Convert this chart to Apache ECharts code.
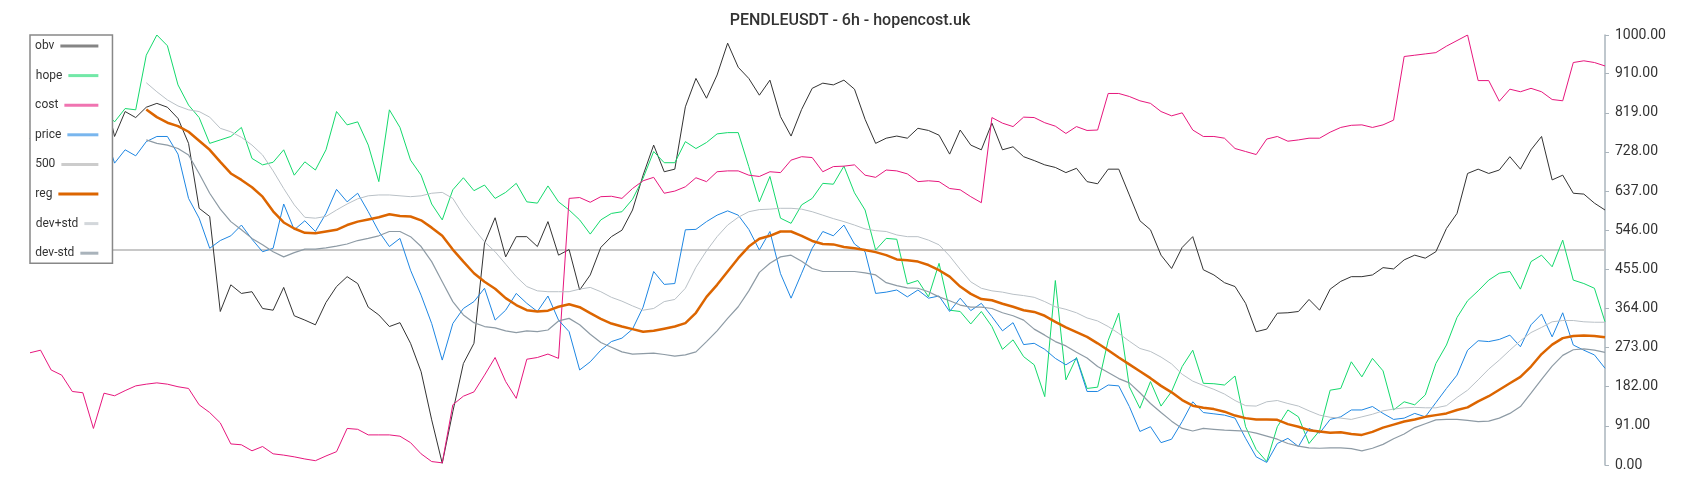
<!DOCTYPE html>
<html>
<head>
<meta charset="utf-8">
<title>PENDLEUSDT - 6h</title>
<script src="https://cdn.jsdelivr.net/npm/echarts@6/dist/echarts.min.js"></script>
<style>
  html, body { margin: 0; padding: 0; background: #fff; }
  #chart { width: 1700px; height: 500px; }
</style>
</head>
<body>
<div id="chart"></div>
<script>
const obv = [800, 770, 790, 815, 805, 830, 845, 870, 764, 822, 808, 832, 841, 832, 806, 748, 597, 578, 357, 419,
  399, 403, 364, 360, 413, 347, 337, 326, 378, 415, 438, 422, 367, 349, 322, 331, 283, 217, 105, 4,
  124, 236, 283, 516, 575, 484, 531, 531, 508, 566, 488, 501, 407, 442, 506, 531, 546, 593, 674, 744,
  682, 688, 833, 899, 853, 907, 981, 925, 899, 860, 895, 810, 765, 827, 876, 888, 884, 895, 874, 804,
  748, 760, 765, 760, 783, 778, 767, 723, 779, 744, 733, 795, 733, 740, 717, 708, 698, 692, 680, 690,
  659, 654, 688, 688, 628, 568, 547, 488, 457, 506, 531, 454, 442, 424, 415, 376, 310, 316, 353, 354,
  357, 385, 360, 409, 427, 438, 438, 442, 459, 456, 477, 488, 481, 496, 550, 585, 678, 688, 678, 686,
  717, 688, 733, 764, 663, 674, 632, 630, 609, 593];

const hope = [790, 800, 815, 805, 830, 820, 805, 825, 798, 829, 826, 953, 1000, 975, 884, 837, 808, 748, 756, 764,
  785, 713, 698, 704, 733, 674, 705, 686, 733, 822, 791, 798, 744, 659, 826, 785, 709, 674, 607, 570,
  640, 668, 638, 651, 620, 634, 655, 612, 609, 649, 612, 593, 570, 537, 570, 585, 589, 618, 667, 729,
  703, 703, 752, 736, 750, 770, 773, 773, 694, 612, 671, 574, 562, 605, 620, 655, 653, 695, 633, 593,
  500, 527, 525, 421, 429, 391, 469, 360, 357, 328, 357, 322, 269, 291, 252, 233, 159, 429, 198, 250,
  178, 181, 290, 353, 182, 132, 194, 137, 171, 229, 267, 190, 189, 186, 207, 89, 36, 8, 89, 128,
  112, 50, 80, 174, 178, 240, 205, 248, 219, 128, 147, 140, 163, 236, 279, 343, 382, 405, 430, 446,
  450, 409, 473, 488, 461, 523, 430, 422, 411, 333];

const cost = [261, 267, 221, 209, 171, 168, 85, 167, 161, 173, 184, 188, 191, 188, 182, 178, 140, 122, 98, 49,
  47, 33, 43, 26, 23, 19, 14, 10, 21, 31, 85, 83, 70, 70, 70, 67, 52, 26, 8, 5,
  140, 160, 170, 209, 250, 194, 155, 246, 250, 258, 248, 620, 622, 611, 624, 625, 620, 643, 661, 669,
  632, 637, 647, 668, 659, 682, 684, 684, 674, 671, 682, 680, 709, 717, 715, 682, 694, 695, 698, 674,
  669, 686, 684, 677, 659, 661, 659, 643, 640, 624, 610, 808, 795, 787, 809, 808, 796, 788, 771, 787,
  778, 779, 864, 864, 857, 847, 841, 822, 812, 819, 779, 764, 764, 760, 736, 729, 722, 758, 764, 753,
  756, 760, 760, 774, 785, 790, 791, 785, 791, 802, 950, 953, 956, 959, 974, 987, 1000, 894, 894, 846,
  874, 868, 876, 868, 850, 847, 936, 940, 936, 928];

const price = [760, 700, 730, 750, 745, 765, 750, 780, 702, 733, 719, 752, 764, 764, 723, 620, 574, 504, 522, 533,
  558, 525, 496, 504, 607, 547, 568, 543, 585, 641, 612, 632, 589, 543, 508, 527, 453, 395, 329, 244,
  329, 364, 380, 411, 337, 360, 399, 376, 357, 393, 337, 310, 221, 240, 267, 287, 295, 316, 367, 450,
  420, 422, 547, 548, 566, 581, 591, 581, 548, 500, 543, 445, 388, 446, 504, 543, 533, 558, 514, 496,
  399, 402, 407, 391, 407, 388, 393, 357, 388, 359, 376, 345, 312, 331, 280, 283, 269, 248, 233, 248,
  171, 171, 186, 184, 136, 78, 89, 52, 60, 101, 147, 122, 119, 116, 109, 62, 19, 6, 50, 62,
  43, 85, 74, 106, 112, 128, 128, 136, 120, 106, 109, 120, 112, 145, 178, 209, 267, 289, 287, 292,
  302, 275, 326, 351, 298, 354, 279, 267, 256, 225];

const devPlus = [null, null, null, null, null, null, null, null, null, null, null, 889, 868, 849, 835, 826, 822, 809, 783, 775,
  762, 744, 721, 684, 643, 605, 576, 574, 578, 593, 607, 619, 626, 628, 628, 626, 624, 626, 632, 634,
  620, 581, 549, 519, 496, 467, 438, 415, 405, 403, 403, 403, 409, 413, 403, 390, 381, 370, 360, 364,
  380, 385, 411, 460, 498, 531, 558, 576, 589, 594, 595, 597, 597, 595, 589, 581, 573, 566, 558, 549,
  545, 543, 535, 531, 531, 523, 512, 486, 455, 426, 411, 405, 402, 397, 394, 390, 380, 368, 362, 354,
  342, 335, 322, 306, 288, 271, 264, 251, 235, 211, 195, 185, 176, 165, 150, 138, 137, 147, 150, 143,
  137, 126, 116, 111, 109, 106, 112, 118, 126, 130, 133, 134, 133, 133, 138, 157, 174, 198, 223, 244,
  267, 289, 308, 320, 333, 336, 336, 333, 332, 332];

const reg = [null, null, null, null, null, null, null, null, null, null, null, 827, 809, 796, 788, 775, 754, 733, 705, 678,
  663, 646, 624, 590, 564, 550, 540, 539, 543, 547, 558, 566, 571, 576, 583, 579, 578, 569, 552, 533,
  501, 473, 446, 426, 410, 388, 372, 360, 357, 359, 368, 374, 367, 353, 340, 329, 322, 316, 310, 312,
  317, 322, 330, 354, 391, 419, 450, 481, 508, 526, 533, 543, 543, 533, 521, 514, 513, 507, 504, 500,
  495, 488, 478, 476, 473, 465, 453, 438, 415, 398, 386, 383, 375, 368, 360, 356, 347, 333, 320, 309,
  298, 283, 267, 250, 234, 218, 202, 184, 169, 151, 138, 133, 130, 124, 115, 109, 106, 106, 105, 95,
  89, 81, 78, 75, 76, 72, 70, 77, 87, 94, 101, 106, 112, 116, 120, 128, 134, 148, 160, 175,
  190, 205, 229, 258, 280, 295, 300, 301, 300, 297];

const devMinus = [null, null, null, null, null, null, null, null, null, null, null, 756, 748, 744, 736, 721, 678, 632, 595, 566,
  547, 527, 512, 496, 484, 494, 502, 502, 505, 509, 514, 522, 527, 533, 543, 543, 531, 508, 473, 426,
  380, 349, 331, 322, 319, 312, 308, 312, 310, 314, 335, 341, 326, 304, 285, 274, 263, 258, 259, 260,
  257, 253, 256, 263, 287, 312, 341, 368, 405, 448, 469, 484, 488, 474, 457, 450, 450, 450, 450, 447,
  442, 424, 417, 412, 411, 403, 391, 382, 372, 367, 367, 364, 354, 347, 337, 316, 302, 287, 277, 262,
  249, 229, 215, 201, 191, 168, 143, 122, 102, 85, 79, 85, 83, 81, 80, 79, 74, 67, 60, 50,
  44, 40, 39, 40, 40, 38, 33, 39, 48, 61, 72, 87, 96, 105, 106, 106, 104, 101, 102, 109,
  120, 136, 167, 199, 230, 255, 268, 270, 267, 262];

const level = 500;
const times = obv.map((_, i) => String(i));

const names = ['obv', 'hope', 'cost', 'price', '500', 'reg', 'dev+std', 'dev-std'];
const colors = ['#333333', '#14d96c', '#e6177d', '#1e86e2', '#c8c8c8', '#dc6500', '#b9c0c6', '#8e9ba5'];
// paler swatches, like the legend in the original
const swatches = ['#858585', '#72e8a7', '#f074b1', '#79b6ee', '#cccccc', '#dc6500', '#d3d7db', '#a9b3bb'];

// text left, swatch stretched to a common right edge
const measure = document.createElement('canvas').getContext('2d');
measure.font = '12px Roboto';
const legendRich = {
  t: { fontSize: 12, color: '#333', lineHeight: 14, verticalAlign: 'middle' },
  g: { width: 6 }
};
names.forEach((name, i) => {
  legendRich['l' + i] = {
    width: Math.round(63 - 6 - measure.measureText(name).width),
    height: 3,
    backgroundColor: swatches[i],
    verticalAlign: 'middle'
  };
});

const lineSeries = (name, data, color, width) => ({
  name,
  type: 'line',
  data,
  symbol: 'none',
  lineStyle: { color, width },
  itemStyle: { color },
  animation: false
});

const chart = echarts.init(document.getElementById('chart'));
chart.setOption({
  textStyle: { fontFamily: 'Roboto' },
  title: {
    text: 'PENDLEUSDT - 6h - hopencost.uk',
    left: 'center',
    top: 8,
    textStyle: { fontSize: 16, fontWeight: 500, color: '#333' }
  },
  legend: {
    orient: 'vertical',
    left: 30,
    top: 35,
    align: 'right',
    backgroundColor: '#fff',
    borderColor: '#888',
    borderWidth: 1.5,
    padding: [5, 3, 4, 5],
    itemGap: 17.6,
    itemWidth: 1,
    itemHeight: 14,
    lineStyle: { opacity: 0 },
    itemStyle: { opacity: 0 },
    formatter: name => `{t|${name}}{g|}{l${names.indexOf(name)}|}`,
    textStyle: { color: '#333', fontSize: 12, rich: legendRich }
  },
  grid: { left: 30, right: 95, top: 35, bottom: 35 },
  xAxis: {
    type: 'category',
    data: times,
    boundaryGap: false,
    show: false
  },
  yAxis: {
    type: 'value',
    position: 'right',
    min: 0,
    max: 1000,
    interval: 91,
    splitLine: { show: false },
    axisLine: { show: true, lineStyle: { color: '#aab4bc', width: 1.5 } },
    axisTick: { show: true, length: 4 },
    axisLabel: { color: '#333', fontSize: 14, margin: 10, formatter: v => v.toFixed(2) }
  },
  series: [
    lineSeries('obv', obv, colors[0], 1),
    lineSeries('hope', hope, colors[1], 1),
    lineSeries('cost', cost, colors[2], 1),
    lineSeries('price', price, colors[3], 1),
    {
      ...lineSeries('500', [], colors[4], 2),
      markLine: {
        z: 2,
        silent: true,
        symbol: 'none',
        label: { show: false },
        lineStyle: { color: colors[4], width: 2, type: 'solid' },
        data: [{ yAxis: level }]
      }
    },
    lineSeries('reg', reg, colors[5], 2.5),
    lineSeries('dev+std', devPlus, colors[6], 1),
    lineSeries('dev-std', devMinus, colors[7], 1.2)
  ]
});
</script>
</body>
</html>
